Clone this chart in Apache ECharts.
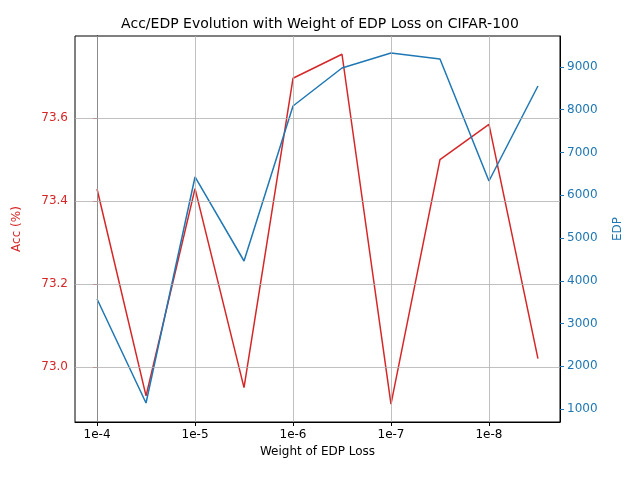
<!DOCTYPE html>
<html><head><meta charset="utf-8">
<script src="https://cdn.jsdelivr.net/npm/echarts@6/dist/echarts.min.js"></script>
<style>body{margin:0}#c{width:640px;height:480px}</style></head>
<body><div id="c"></div>
<script>
var xLabels = ['1e-4', '1e-5', '1e-6', '1e-7', '1e-8'];
var accVals = [73.429, 72.93, 73.43, 72.95, 73.696, 73.754, 72.91, 73.50, 73.585, 73.02];
var edpVals = [3573, 1140, 6427, 4462, 8087, 8976, 9327, 9187, 6333, 8555];
var accTicks = [73.0, 73.2, 73.4, 73.6];
var edpTicks = [1000, 2000, 3000, 4000, 5000, 6000, 7000, 8000, 9000];

var chart = echarts.init(document.getElementById('c'));
var font = 'DejaVu Sans';
var red = '#d62728', blue = '#1f77b4';
chart.setOption({
  animation: false,
  textStyle: {fontFamily: font},
  title: {text: 'Acc/EDP Evolution with Weight of EDP Loss on CIFAR-100', left: 'center', top: 12,
    textStyle: {fontFamily: font, fontSize: 14, fontWeight: 'normal', color: '#000'}},
  grid: {left: 75, right: 80, top: 36, bottom: 58},
  xAxis: {
    type: 'value', min: -0.45, max: 9.45,
    name: 'Weight of EDP Loss', nameLocation: 'middle', nameGap: 22,
    nameTextStyle: {fontSize: 12, color: '#000'},
    axisLine: {onZero: false, lineStyle: {color: '#000'}},
    axisTick: {customValues: [0, 2, 4, 6, 8], length: 4, lineStyle: {color: '#000'}},
    axisLabel: {customValues: [0, 2, 4, 6, 8], color: '#000', fontSize: 12, margin: 7,
      formatter: function (v) { return xLabels[Math.round(v / 2)]; }},
    splitLine: {show: false}
  },
  yAxis: [{
    type: 'value', min: 72.867, max: 73.798, position: 'left',
    name: 'Acc (%)', nameLocation: 'middle', nameGap: 52, nameRotate: 90,
    nameTextStyle: {color: red, fontSize: 12},
    axisLine: {show: true, lineStyle: {color: '#000'}},
    axisTick: {show: true, customValues: accTicks, length: 4, lineStyle: {color: red}},
    axisLabel: {customValues: accTicks, color: red, fontSize: 12, margin: 7,
      formatter: function (v) { return v.toFixed(1); }},
    splitLine: {show: false}
  }, {
    type: 'value', min: 696, max: 9725, position: 'right',
    name: 'EDP', nameLocation: 'middle', nameGap: 52, nameRotate: 90,
    nameTextStyle: {color: blue, fontSize: 12},
    axisLine: {show: true, lineStyle: {color: '#000'}},
    axisTick: {show: true, customValues: edpTicks, length: 4, lineStyle: {color: blue}},
    axisLabel: {customValues: edpTicks, color: blue, fontSize: 12, margin: 7,
      formatter: function (v) { return String(v); }},
    splitLine: {show: false}
  }],
  series: [{
    type: 'line', yAxisIndex: 0, symbol: 'none', color: red, lineStyle: {width: 1.5},
    data: accVals.map(function (v, i) { return [i, v]; }),
    markLine: {silent: true, symbol: 'none', label: {show: false}, animation: false,
      lineStyle: {color: '#b0b0b0', width: 0.8, type: 'solid'},
      data: accTicks.map(function (t) { return {yAxis: t}; })
        .concat([0, 2, 4, 6, 8].map(function (t) { return {xAxis: t}; }))}
  }, {
    type: 'line', yAxisIndex: 1, symbol: 'none', color: blue, lineStyle: {width: 1.5},
    data: edpVals.map(function (v, i) { return [i, v]; })
  }],
  graphic: [{type: 'rect', shape: {x: 75, y: 36, width: 485, height: 386},
    style: {fill: 'none', stroke: '#000', lineWidth: 1}, silent: true}]
});
</script></body></html>
